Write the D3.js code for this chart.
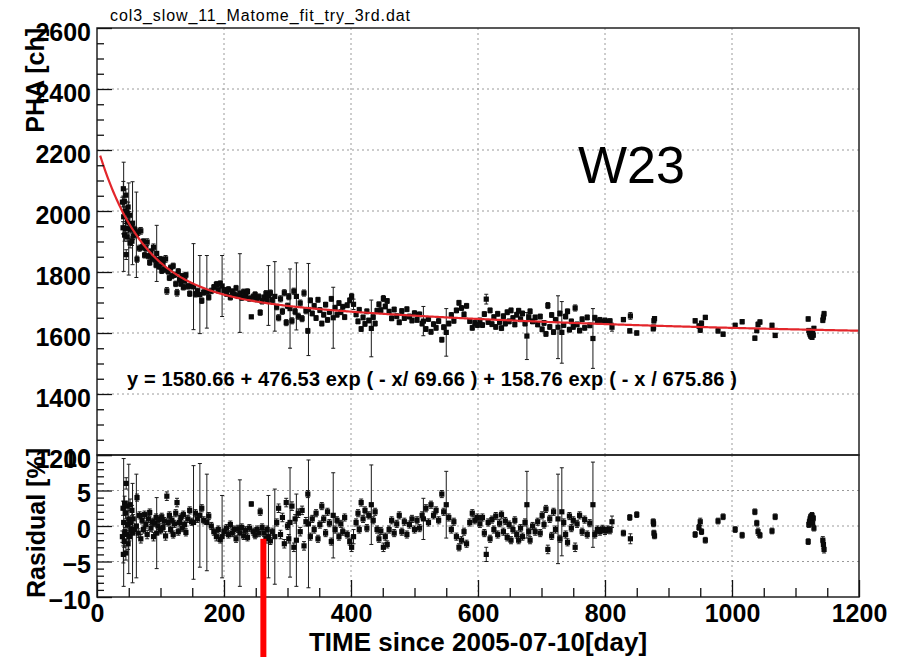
<!DOCTYPE html>
<html>
<head>
<meta charset="utf-8">
<script src="https://cdn.jsdelivr.net/npm/d3@7"></script>
<style>
  html, body { margin: 0; padding: 0; background: #fff; }
  svg { display: block; }
  text { font-family: "Liberation Sans", Arial, Helvetica, sans-serif; fill: #000; }
</style>
</head>
<body>
<script>
// ---- fit function parameters: y = p0 + p1*exp(-x/p2) + p3*exp(-x/p4)
const fitParams = [1580.66, 476.53, 69.66, 158.76, 675.86];
const fitRange = [5, 1200];

// ---- axis ticks
const xTicks = [0, 200, 400, 600, 800, 1000, 1200];
const phaTicks = [1200, 1400, 1600, 1800, 2000, 2200, 2400, 2600];
const residTicks = [-10, -5, 0, 5, 10];

// ---- measurements: day, PHA [ch] with error, residual [%] with error
const days = [
  40, 41, 41.5, 42, 43, 43.5, 44, 45, 45.5, 46, 47, 47.5, 48, 49, 50, 51, 52, 53, 54, 55, 56, 57,
  59, 62, 63, 65, 67, 69, 71, 73, 75, 77, 79, 81, 83, 85, 87, 89, 91, 93, 94, 96, 98, 100,
  102, 104, 106, 108, 110, 112, 114, 116, 118, 120, 122, 124, 126, 128, 130, 132, 134, 136, 138, 140,
  143, 146, 149, 152, 155, 158, 162, 165, 168, 173, 176, 180, 184, 188, 191, 194, 197, 200,
  204, 207, 210, 213, 216, 219, 222, 225, 228, 231, 234, 237, 240, 243, 246, 249, 252, 255, 257, 260,
  263, 266, 268, 270, 273, 276, 280, 283, 286, 289, 292, 295, 298, 300,
  302, 304, 307, 310, 312, 314, 317, 320, 323, 326, 329, 332, 333, 336, 339, 342, 345, 348, 351, 354,
  357, 360, 363, 366, 369, 372, 375, 378, 381, 384, 387, 390, 394, 398, 401, 404,
  408, 411, 413, 416, 419, 422, 425, 428, 432, 435, 438, 441, 444, 447, 451, 454, 457, 460, 464, 468,
  472, 476, 480, 484, 488, 492, 496, 500,
  504, 508, 512, 514, 518, 522, 526, 530, 534, 538, 543, 546, 550, 554, 558, 562, 566, 570, 574, 578,
  582, 587, 591, 595, 599,
  603, 607, 610, 613, 616, 619, 622, 625, 628, 631, 634, 637, 640, 643, 646, 649, 652, 655, 658, 661,
  664, 667, 670, 674, 677, 680, 682, 686, 690, 694, 698, 701, 704, 707, 710, 713, 716, 719, 722, 726,
  729, 732, 735, 738, 741, 744, 747, 750, 753, 756, 760, 764, 768, 772, 776, 781, 784, 788, 792, 796,
  800, 804, 808,
  811, 829, 839, 840, 850, 876, 876.5, 877, 878, 942, 948, 950, 952, 958, 978, 986, 1005, 1016, 1036, 1039,
  1041, 1044, 1063, 1068, 1120, 1121, 1122, 1123, 1124, 1125, 1126, 1127, 1128, 1129, 1143, 1144, 1145
];

const pha = [
  2029, 1945, 2073, 1981, 2031, 1921, 1999, 1943, 2052, 1857, 1995, 1915, 1964, 2013, 1941, 1986, 1895, 1940, 1956, 1901, 1960, 1918,
  1940, 1922, 1842, 1932, 1878, 1935, 1881, 1900, 1855, 1877, 1898, 1852, 1831, 1867, 1846, 1881, 1841, 1823, 1861, 1839, 1818, 1842,
  1804, 1828, 1808, 1843, 1738, 1802, 1781, 1814, 1787, 1820, 1791, 1761, 1732, 1802, 1776, 1762, 1786, 1750, 1772, 1790,
  1753, 1729, 1754, 1752, 1727, 1738, 1726, 1706, 1733, 1735, 1717, 1738, 1750, 1759, 1740, 1762, 1754, 1740,
  1729, 1743, 1717, 1736, 1726, 1747, 1722, 1731, 1716, 1735, 1720, 1736, 1713, 1653, 1719, 1726, 1711, 1719, 1667, 1704,
  1716, 1729, 1706, 1723, 1732, 1709, 1720, 1685, 1650, 1712, 1671, 1732, 1634, 1689,
  1719, 1680, 1640, 1737, 1670, 1720, 1655, 1698, 1647, 1731, 1673, 1607, 1677, 1707, 1664, 1689, 1649, 1709, 1675, 1631,
  1660, 1693, 1643, 1669, 1712, 1650, 1683, 1660, 1698, 1668, 1686, 1652, 1691, 1707, 1720, 1694,
  1661, 1638, 1676, 1613, 1651, 1630, 1671, 1641, 1615, 1652, 1631, 1673, 1694, 1675, 1713, 1687, 1705, 1670, 1648, 1677,
  1655, 1635, 1672, 1649, 1678, 1654, 1641, 1665,
  1643, 1661, 1631, 1639, 1613, 1646, 1604, 1629, 1617, 1639, 1578, 1619, 1602, 1631, 1659, 1640, 1674, 1699, 1682, 1661,
  1689, 1639, 1617, 1633, 1626,
  1641, 1626, 1662, 1711, 1636, 1674, 1629, 1652, 1620, 1663, 1636, 1616, 1655, 1631, 1668, 1638, 1674, 1649, 1628, 1660,
  1673, 1645, 1664, 1631, 1590, 1652, 1671, 1638, 1651, 1628, 1654, 1612, 1633, 1597, 1690, 1620, 1659, 1603, 1643, 1619,
  1664, 1602, 1626, 1654, 1671, 1611, 1638, 1620, 1682, 1628, 1608, 1645, 1617, 1651, 1625, 1582, 1650, 1638, 1643, 1636,
  1641, 1637, 1639,
  1619, 1644, 1607, 1656, 1600, 1614, 1619, 1640, 1647, 1640, 1623, 1610, 1632, 1651, 1607, 1596, 1625, 1637, 1583, 1608,
  1628, 1636, 1625, 1592, 1646, 1608, 1601, 1595, 1590, 1596, 1586, 1604, 1593, 1615, 1642, 1652, 1663
];

const phaErr = [
  16, 20, 24, 179, 16, 20, 12, 16, 20, 16, 12, 14, 10, 16, 151, 12, 16, 12, 10, 14, 136, 12,
  10, 140, 10, 12, 10, 11, 9, 9, 9, 9, 11, 9, 9, 9, 9, 11, 9, 9, 92, 9, 9, 9,
  9, 9, 9, 11, 11, 9, 9, 9, 9, 9, 9, 9, 11, 9, 9, 9, 9, 9, 9, 9,
  9, 9, 9, 141, 9, 9, 128, 9, 9, 119, 9, 9, 9, 10, 9, 9, 100, 9,
  9, 9, 9, 9, 9, 9, 9, 129, 9, 9, 9, 9, 9, 5, 9, 9, 9, 9, 9, 9,
  9, 10, 9, 98, 9, 9, 114, 9, 10, 10, 10, 10, 10, 9,
  10, 130, 10, 10, 10, 110, 10, 10, 10, 10, 10, 8, 151, 8, 8, 8, 8, 8, 8, 8,
  8, 8, 8, 8, 8, 100, 8, 8, 8, 8, 8, 8, 8, 8, 10, 17,
  8, 8, 8, 8, 8, 8, 8, 8, 93, 8, 8, 8, 8, 8, 10, 8, 8, 8, 8, 8,
  8, 8, 8, 8, 8, 8, 8, 8,
  8, 8, 8, 48, 8, 8, 8, 8, 8, 8, 8, 8, 78, 8, 8, 8, 8, 8, 8, 8,
  8, 8, 8, 8, 8,
  8, 8, 8, 16, 8, 8, 8, 8, 8, 8, 8, 8, 8, 8, 8, 8, 8, 8, 8, 8,
  8, 8, 8, 8, 77, 8, 8, 8, 8, 8, 8, 8, 8, 8, 10, 8, 8, 8, 8, 103,
  8, 101, 8, 8, 8, 8, 8, 8, 10, 8, 8, 8, 8, 8, 8, 98, 8, 8, 8, 8,
  8, 8, 8,
  13, 7, 7, 11, 7, 7, 7, 7, 7, 7, 7, 8, 7, 7, 7, 7, 7, 7, 7, 7,
  8, 7, 7, 7, 7, 7, 7, 7, 7, 7, 7, 7, 7, 7, 8, 10, 8
];

const resid = [
  -1.5, 2.5, -4.0, 0.5, -2.2, 3.2, -0.8, 1.8, -3.8, 6.0, -1.2, 2.8, 0.2, -2.5, 1.0, -1.5, 3.0, 0.5, -0.5, 2.2, -1.0, 1.0,
  -0.5, 0.0, 4.0, -1.0, 1.5, -1.8, 0.8, -0.5, 1.6, 0.2, -1.2, 1.0, 1.9, -0.3, 0.6, -1.5, 0.4, 1.2, -1.0, 0.0, 0.9, -0.6,
  1.3, -0.2, 0.7, -1.4, 4.2, 0.5, 1.5, -0.5, 0.8, -1.2, 0.3, 1.8, 3.3, -0.8, 0.5, 1.2, -0.3, 1.6, 0.2, -0.9,
  1.0, 2.2, 0.6, 0.5, 1.8, 1.0, 1.5, 2.5, 0.8, 0.5, 1.4, 0.0, -0.8, -1.5, -0.5, -1.9, -1.5, -0.8,
  -0.3, -1.2, 0.2, -1.0, -0.5, -1.8, -0.4, -1.0, -0.2, -1.4, -0.6, -1.6, -0.3, 3.1, -0.8, -1.3, -0.5, -1.0, 2.0, -0.2,
  -1.0, -1.8, -0.5, -1.5, -2.1, -0.8, -1.5, 0.5, 2.5, -1.2, 1.2, -2.5, 3.3, 0.0,
  -1.8, 0.5, 2.8, -3.0, 1.0, -2.0, 1.8, -0.8, 2.2, -2.8, 0.6, 4.5, 0.3, -1.5, 1.0, -0.5, 1.8, -1.8, 0.2, 2.8,
  1.0, -1.0, 2.0, 0.4, -2.2, 1.5, -0.5, 0.8, -1.5, 0.3, -0.8, 1.2, -1.2, -2.2, -3.0, -1.5,
  0.5, 1.8, -0.5, 3.3, 1.0, 2.2, -0.3, 1.5, 3.0, 0.8, 2.0, -0.5, -1.8, -0.7, -3.0, -1.5, -2.6, -0.5, 0.8, -1.0,
  0.3, 1.5, -0.8, 0.6, -1.2, 0.2, 1.0, -0.5,
  0.8, -0.3, 1.5, 1.0, 2.5, 0.5, 3.0, 1.5, 2.2, 0.8, 4.5, 2.0, 3.0, 1.2, -0.5, 0.6, -1.5, -3.0, -2.0, -0.8,
  -2.5, 0.5, 1.8, 0.8, 1.2,
  0.3, 1.2, -1.0, -4.0, 0.5, -1.8, 0.9, -0.5, 1.4, -1.2, 0.4, 1.6, -0.8, 0.7, -1.6, 0.2, -2.0, -0.5, 0.8, -1.2,
  -2.0, -0.3, -1.5, 0.5, 3.0, -0.8, -2.0, 0.0, -0.8, 0.6, -1.0, 1.5, 0.2, 2.4, -3.3, 1.0, -1.4, 2.0, -0.5, 1.0,
  -1.8, 2.0, 0.5, -1.2, -2.3, 1.4, -0.3, 0.8, -3.0, 0.3, 1.5, -0.8, 0.9, -1.2, 0.4, 3.0, -1.2, -0.5, -0.8, -0.4,
  -0.7, -0.5, -0.6,
  0.6, -1.0, 1.2, -1.8, 1.6, 0.6, 0.3, -1.0, -1.4, -1.2, -0.2, 0.6, -0.8, -2.0, 0.7, 1.3, -0.5, -1.3, 2.0, 0.4,
  -0.8, -1.3, -0.7, 1.3, -2.2, 0.2, 0.6, 1.0, 1.3, 0.9, 1.5, 0.4, 1.1, -0.3, -2.0, -2.6, -3.3
];

const residErr = [
  0.8, 1.0, 1.2, 9.0, 0.8, 1.0, 0.6, 0.8, 1.0, 0.8, 0.6, 0.7, 0.5, 0.8, 7.7, 0.6, 0.8, 0.6, 0.5, 0.7, 7.0, 0.6,
  0.5, 7.3, 0.5, 0.6, 0.5, 0.6, 0.5, 0.5, 0.5, 0.5, 0.6, 0.5, 0.5, 0.5, 0.5, 0.6, 0.5, 0.5, 5.0, 0.5, 0.5, 0.5,
  0.5, 0.5, 0.5, 0.6, 0.6, 0.5, 0.5, 0.5, 0.5, 0.5, 0.5, 0.5, 0.6, 0.5, 0.5, 0.5, 0.5, 0.5, 0.5, 0.5,
  0.5, 0.5, 0.5, 8.0, 0.5, 0.5, 7.3, 0.5, 0.5, 6.8, 0.5, 0.5, 0.5, 0.6, 0.5, 0.5, 5.8, 0.5,
  0.5, 0.5, 0.5, 0.5, 0.5, 0.5, 0.5, 7.5, 0.5, 0.5, 0.5, 0.5, 0.5, 0.3, 0.5, 0.5, 0.5, 0.5, 0.5, 0.5,
  0.5, 0.6, 0.5, 5.8, 0.5, 0.5, 6.7, 0.5, 0.6, 0.6, 0.6, 0.6, 0.6, 0.5,
  0.6, 7.7, 0.6, 0.6, 0.6, 6.5, 0.6, 0.6, 0.6, 0.6, 0.6, 0.5, 9.0, 0.5, 0.5, 0.5, 0.5, 0.5, 0.5, 0.5,
  0.5, 0.5, 0.5, 0.5, 0.5, 6.0, 0.5, 0.5, 0.5, 0.5, 0.5, 0.5, 0.5, 0.5, 0.6, 1.0,
  0.5, 0.5, 0.5, 0.5, 0.5, 0.5, 0.5, 0.5, 5.6, 0.5, 0.5, 0.5, 0.5, 0.5, 0.6, 0.5, 0.5, 0.5, 0.5, 0.5,
  0.5, 0.5, 0.5, 0.5, 0.5, 0.5, 0.5, 0.5,
  0.5, 0.5, 0.5, 2.9, 0.5, 0.5, 0.5, 0.5, 0.5, 0.5, 0.5, 0.5, 4.7, 0.5, 0.5, 0.5, 0.5, 0.5, 0.5, 0.5,
  0.5, 0.5, 0.5, 0.5, 0.5,
  0.5, 0.5, 0.5, 1.0, 0.5, 0.5, 0.5, 0.5, 0.5, 0.5, 0.5, 0.5, 0.5, 0.5, 0.5, 0.5, 0.5, 0.5, 0.5, 0.5,
  0.5, 0.5, 0.5, 0.5, 4.7, 0.5, 0.5, 0.5, 0.5, 0.5, 0.5, 0.5, 0.5, 0.5, 0.6, 0.5, 0.5, 0.5, 0.5, 6.3,
  0.5, 6.2, 0.5, 0.5, 0.5, 0.5, 0.5, 0.5, 0.6, 0.5, 0.5, 0.5, 0.5, 0.5, 0.5, 6.0, 0.5, 0.5, 0.5, 0.5,
  0.5, 0.5, 0.5,
  0.8, 0.4, 0.4, 0.7, 0.4, 0.4, 0.4, 0.4, 0.4, 0.4, 0.4, 0.5, 0.4, 0.4, 0.4, 0.4, 0.4, 0.4, 0.4, 0.4,
  0.5, 0.4, 0.4, 0.4, 0.4, 0.4, 0.4, 0.4, 0.4, 0.4, 0.4, 0.4, 0.4, 0.4, 0.5, 0.6, 0.5
];

// ---- hand-drawn marker on the residual panel
const markerDay = [262];
const markerResid = [-1.8];

// ---- texts
const titleText = "col3_slow_11_Matome_fit_try_3rd.dat";
const xTitle = "TIME since 2005-07-10[day]";
const phaTitle = "PHA [ch]";
const residTitle = "Rasidual [%]";
const tagText = "W23";

// ================= drawing =================
const W = 905, H = 657;
const svg = d3.select("body").append("svg").attr("width", W).attr("height", H);
svg.append("rect").attr("width", W).attr("height", H).attr("fill", "#fff");

const x = d3.scaleLinear().domain([0, 1200]).range([97, 859]);
const yPha = d3.scaleLinear().domain([1200, 2600]).range([455, 28]);
const yRes = d3.scaleLinear().domain([-10, 10]).range([597, 455]);

const fitValue = t => fitParams[0] + fitParams[1] * Math.exp(-t / fitParams[2]) + fitParams[3] * Math.exp(-t / fitParams[4]);

const defs = svg.append("defs");
defs.append("clipPath").attr("id", "clipTop").append("rect")
  .attr("x", x(0)).attr("y", yPha(2600)).attr("width", x(1200) - x(0)).attr("height", yPha(1200) - yPha(2600));
defs.append("clipPath").attr("id", "clipRes").append("rect")
  .attr("x", x(0)).attr("y", yRes(10)).attr("width", x(1200) - x(0)).attr("height", yRes(-10) - yRes(10));

// grids (dotted)
const gridStyle = g => g.attr("stroke", "#9a9a9a").attr("stroke-width", 1).attr("stroke-dasharray", "2,3");
const gridX = xTicks.filter(v => v > 0 && v < 1200);
const gTop = svg.append("g");
gTop.selectAll("line.v").data(gridX).join("line")
  .attr("x1", d => x(d)).attr("x2", d => x(d)).attr("y1", yPha(2600)).attr("y2", yPha(1200)).call(gridStyle);
gTop.selectAll("line.h").data(phaTicks.filter(v => v > 1200 && v < 2600)).join("line")
  .attr("x1", x(0)).attr("x2", x(1200)).attr("y1", d => yPha(d)).attr("y2", d => yPha(d)).call(gridStyle);
const gRes = svg.append("g");
gRes.selectAll("line.v").data(gridX).join("line")
  .attr("x1", d => x(d)).attr("x2", d => x(d)).attr("y1", yRes(10)).attr("y2", yRes(-10)).call(gridStyle);
gRes.selectAll("line.h").data(residTicks.filter(v => v > -10 && v < 10)).join("line")
  .attr("x1", x(0)).attr("x2", x(1200)).attr("y1", d => yRes(d)).attr("y2", d => yRes(d)).call(gridStyle);

// points with error bars
function drawPoints(g, yScale, vals, errs) {
  const n = Math.min(days.length, vals.length, errs.length);
  const pts = d3.range(n).map(i => ({ d: days[i], v: vals[i], e: errs[i] }));
  const bars = g.append("g").attr("stroke", "#1a1a1a").attr("stroke-width", 1);
  bars.selectAll("line.bar").data(pts).join("line")
    .attr("x1", p => x(p.d)).attr("x2", p => x(p.d))
    .attr("y1", p => yScale(p.v - p.e)).attr("y2", p => yScale(p.v + p.e));
  bars.selectAll("line.capHi").data(pts).join("line")
    .attr("x1", p => x(p.d) - 2).attr("x2", p => x(p.d) + 2)
    .attr("y1", p => yScale(p.v + p.e)).attr("y2", p => yScale(p.v + p.e));
  bars.selectAll("line.capLo").data(pts).join("line")
    .attr("x1", p => x(p.d) - 2).attr("x2", p => x(p.d) + 2)
    .attr("y1", p => yScale(p.v - p.e)).attr("y2", p => yScale(p.v - p.e));
  g.append("g").selectAll("rect").data(pts).join("rect")
    .attr("x", p => x(p.d) - 2.6).attr("y", p => yScale(p.v) - 2.6)
    .attr("width", 5.2).attr("height", 5.2).attr("fill", "#0a0a0a");
}
drawPoints(svg.append("g").attr("clip-path", "url(#clipTop)"), yPha, pha, phaErr);
drawPoints(svg.append("g").attr("clip-path", "url(#clipRes)"), yRes, resid, residErr);

// fit curve
const fitSamples = d3.range(fitRange[0], fitRange[1] + 0.5, 2).map(t => [t, fitValue(t)]);
svg.append("path").datum(fitSamples)
  .attr("clip-path", "url(#clipTop)")
  .attr("fill", "none").attr("stroke", "#e3262b").attr("stroke-width", 2.2)
  .attr("d", d3.line().x(p => x(p[0])).y(p => yPha(p[1])));

// frames
svg.append("rect").attr("x", x(0)).attr("y", yPha(2600)).attr("width", x(1200) - x(0)).attr("height", yPha(1200) - yPha(2600))
  .attr("fill", "none").attr("stroke", "#222").attr("stroke-width", 1.5);
svg.append("rect").attr("x", x(0)).attr("y", yRes(10)).attr("width", x(1200) - x(0)).attr("height", yRes(-10) - yRes(10))
  .attr("fill", "none").attr("stroke", "#222").attr("stroke-width", 1.5);

// axes
const labelFont = sel => sel.selectAll("text")
  .attr("font-family", "'Liberation Sans', Arial, Helvetica, sans-serif")
  .attr("font-size", 25).attr("font-weight", "bold").attr("fill", "#000");
const cleanAxis = g => { g.select(".domain").remove(); g.selectAll("line").attr("stroke", "#111").attr("stroke-width", 1.3); };

// PHA axis
const phaMinor = d3.range(1250, 2600, 50).filter(v => !phaTicks.includes(v));
svg.append("g").attr("transform", `translate(${x(0)},0)`)
  .call(d3.axisLeft(yPha).tickValues(phaMinor).tickSize(-7).tickFormat(""))
  .call(cleanAxis);
const gPhaAxis = svg.append("g").attr("transform", `translate(${x(0)},0)`)
  .call(d3.axisLeft(yPha).tickValues(phaTicks).tickSize(-15).tickPadding(6).tickFormat(d3.format("d")))
  .call(cleanAxis).call(labelFont);
gPhaAxis.selectAll("text").attr("dy", "12px");

// residual axis
const resMinor = d3.range(-9, 10, 1).filter(v => !residTicks.includes(v));
svg.append("g").attr("transform", `translate(${x(0)},0)`)
  .call(d3.axisLeft(yRes).tickValues(resMinor).tickSize(-7).tickFormat(""))
  .call(cleanAxis);
const gResAxis = svg.append("g").attr("transform", `translate(${x(0)},0)`)
  .call(d3.axisLeft(yRes).tickValues(residTicks).tickSize(-15).tickPadding(6).tickFormat(d3.format("d")))
  .call(cleanAxis).call(labelFont);
gResAxis.selectAll("text").attr("dy", "11px");

// time axis
const xMinor = d3.range(50, 1200, 50).filter(v => !xTicks.includes(v));
svg.append("g").attr("transform", `translate(0,${yRes(-10)})`)
  .call(d3.axisBottom(x).tickValues(xMinor).tickSize(-9).tickFormat(""))
  .call(cleanAxis);
svg.append("g").attr("transform", `translate(0,${yRes(-10)})`)
  .call(d3.axisBottom(x).tickValues(xTicks).tickSize(-17).tickPadding(7).tickFormat(d3.format("d")))
  .call(cleanAxis).call(labelFont);

// titles
svg.append("text").attr("x", 110).attr("y", 21)
  .attr("font-size", 16).attr("textLength", 300).attr("lengthAdjust", "spacing")
  .text(titleText);

svg.append("text").attr("x", (x(0) + x(1200)) / 2).attr("y", 651)
  .attr("text-anchor", "middle").attr("font-size", 26).attr("font-weight", "bold")
  .text(xTitle);

svg.append("text").attr("transform", `translate(44,${yPha(2600)}) rotate(-90)`)
  .attr("text-anchor", "end").attr("font-size", 25).attr("font-weight", "bold")
  .text(phaTitle);

svg.append("text").attr("transform", `translate(45,${yRes(10) - 7}) rotate(-90)`)
  .attr("text-anchor", "end").attr("font-size", 25).attr("font-weight", "bold")
  .text(residTitle);

// fit formula built from the fit parameters
const fmt2 = d3.format(".2f");
const formula = `y = ${fmt2(fitParams[0])} + ${fmt2(fitParams[1])} exp ( - x/ ${fmt2(fitParams[2])} ) + ${fmt2(fitParams[3])} exp ( - x / ${fmt2(fitParams[4])} )`;
svg.append("text").attr("x", 127).attr("y", 386)
  .attr("font-size", 20).attr("font-weight", "bold")
  .attr("textLength", 610).attr("lengthAdjust", "spacing")
  .text(formula);

// panel tag
svg.append("text").attr("x", 578).attr("y", 183).attr("font-size", 52).text(tagText);

// red marker bar
svg.selectAll("rect.marker").data(markerDay).join("rect")
  .attr("x", d => x(d) - 3).attr("width", 6)
  .attr("y", (d, i) => yRes(markerResid[i]))
  .attr("height", (d, i) => H - yRes(markerResid[i]))
  .attr("fill", "#ff0000");
</script>
</body>
</html>
